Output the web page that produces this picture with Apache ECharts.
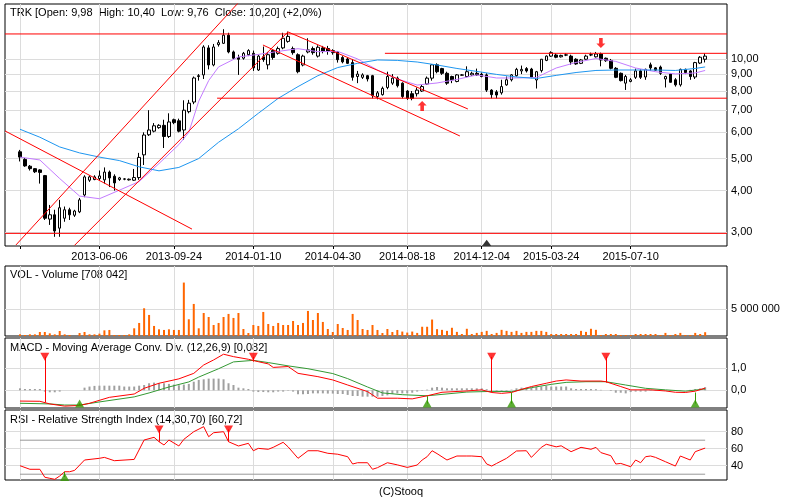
<!DOCTYPE html>
<html>
<head>
<meta charset="utf-8">
<script src="https://cdn.jsdelivr.net/npm/echarts@6/dist/echarts.min.js"></script>
<style>
html, body { margin: 0; padding: 0; background: #fff; }
#main { width: 800px; height: 500px; }
</style>
</head>
<body>
<div id="main"></div>
<script>
// weekly candles: open, high, low, close
var candles = [
  [5.24,5.31,4.90,5.05],[4.97,5.02,4.72,4.75],[4.74,4.78,4.60,4.66],[4.66,4.68,4.52,4.56],[4.62,4.64,4.20,4.54],
  [4.44,4.46,3.26,3.30],[3.28,3.62,3.15,3.38],[3.38,3.50,2.90,3.02],[3.08,3.75,2.90,3.55],[3.30,3.58,3.22,3.50],
  [3.50,3.55,3.26,3.38],[3.37,3.50,3.33,3.47],[3.45,3.80,3.42,3.75],[3.88,4.45,3.82,4.40],[4.30,4.45,4.25,4.40],
  [4.32,4.45,4.30,4.40],[4.35,4.60,4.30,4.43],[4.31,4.70,4.20,4.55],[4.55,4.60,4.10,4.37],[4.42,4.48,4.00,4.22],
  [4.32,4.40,4.28,4.37],[4.33,4.36,4.30,4.34],[4.31,4.35,4.29,4.33],[4.30,4.65,4.28,4.38],[4.38,5.20,4.31,5.04],
  [5.13,6.00,4.78,5.89],[5.90,7.00,5.85,6.10],[6.05,6.40,6.00,6.28],[6.20,6.35,6.15,6.30],[6.30,6.55,5.38,5.83],
  [5.83,6.85,5.77,6.45],[6.55,6.60,6.35,6.42],[6.50,6.60,6.00,6.05],[6.10,7.50,5.70,7.00],[6.93,7.52,6.85,7.35],
  [7.41,8.85,7.30,8.76],[8.85,9.00,8.60,8.90],[8.95,11.00,8.70,10.87],[10.80,11.00,9.30,9.59],[9.59,11.10,9.50,10.87],
  [11.05,11.40,10.90,11.20],[11.15,12.30,11.10,11.80],[11.80,12.00,10.40,10.50],[10.50,10.60,9.95,10.05],[10.10,10.30,8.95,9.98],
  [10.05,10.50,9.95,10.40],[10.30,10.70,10.20,10.60],[10.40,10.60,9.20,9.40],[9.26,10.30,9.20,10.20],[10.15,10.90,9.80,9.95],
  [9.60,10.50,9.30,10.30],[10.60,10.70,9.95,10.10],[10.40,10.90,10.30,10.75],[10.80,12.00,10.70,11.55],[11.30,12.10,11.20,11.70],
  [10.75,10.90,10.30,10.45],[10.30,10.40,9.05,9.15],[9.59,10.30,9.50,10.20],[10.50,11.55,10.40,10.65],[10.75,10.90,10.30,10.45],
  [10.20,11.00,10.10,10.85],[10.80,10.95,10.40,10.55],[10.75,10.95,10.30,10.55],[10.45,10.70,10.30,10.60],[10.50,10.55,9.75,9.95],
  [10.10,10.20,9.70,9.80],[10.00,10.10,9.65,9.70],[9.75,10.00,8.60,8.80],[8.85,9.20,8.45,9.00],[8.80,9.05,8.70,8.95],
  [8.90,8.95,8.55,8.70],[8.90,8.95,7.60,7.75],[7.70,8.00,7.55,7.90],[7.80,8.25,7.75,8.15],[8.20,9.15,8.10,8.85],
  [8.45,9.00,8.35,8.75],[8.75,8.85,8.20,8.30],[8.45,8.50,7.60,7.70],[8.00,8.05,7.52,7.60],[7.85,8.00,7.50,7.60],
  [7.85,8.20,7.70,8.05],[8.00,8.35,7.95,8.25],[8.40,8.85,8.35,8.75],[8.75,9.65,8.60,9.60],[9.60,9.70,9.05,9.15],
  [9.35,9.40,8.95,9.05],[9.05,9.15,8.35,8.45],[8.85,8.90,8.45,8.65],[8.55,9.00,8.50,8.95],[8.93,9.00,8.90,8.95],
  [8.85,9.50,8.80,9.15],[8.95,9.15,8.90,9.05],[9.05,9.35,8.90,8.95],[9.00,9.10,8.80,8.85],[8.95,9.05,7.95,8.05],
  [8.05,8.10,7.60,7.80],[7.95,8.05,7.60,7.78],[7.90,8.65,7.80,8.25],[8.35,8.85,8.30,8.65],[8.65,9.00,8.55,8.95],
  [8.90,9.40,8.85,9.30],[9.20,9.55,9.00,9.30],[9.35,9.45,9.10,9.20],[9.32,9.40,8.75,8.82],[8.64,9.20,8.14,9.15],
  [9.22,10.00,9.10,9.98],[9.90,10.25,9.85,10.20],[10.20,10.55,10.15,10.45],[10.28,10.40,10.05,10.12],[10.15,10.30,10.10,10.25],
  [10.27,10.40,10.20,10.29],[10.20,10.30,9.60,9.80],[9.98,10.05,9.60,9.66],[9.70,10.00,9.65,9.93],[9.98,10.30,9.95,10.20],
  [10.28,10.45,10.20,10.30],[10.15,10.50,10.10,10.35],[10.35,10.45,9.50,9.93],[10.05,10.10,9.80,9.88],[9.90,10.00,9.30,9.37],
  [9.37,9.45,8.75,8.80],[9.05,9.10,8.55,8.60],[8.45,8.95,8.06,8.85],[8.55,8.75,8.50,8.65],[8.80,9.35,8.70,9.20],
  [9.20,9.30,8.70,8.80],[8.82,9.35,8.65,9.30],[9.60,9.75,9.20,9.40],[9.40,9.45,9.20,9.25],[9.45,9.55,8.95,9.05],
  [8.70,8.90,8.20,8.85],[9.00,9.05,8.50,8.50],[8.65,8.75,8.25,8.35],[8.35,9.35,8.25,9.30],[9.30,9.35,9.00,9.10],
  [9.20,9.25,8.65,8.85],[8.82,9.80,8.70,9.75],[9.72,10.20,9.65,10.12],[9.98,10.40,9.76,10.20]
];

// volume in millions
var volume = [
  0.31,0.19,0.31,0.31,0.75,0.75,0.5,0.31,0.94,0.31,0.19,0,
  0.56,0.75,0.31,0.31,0.44,1.06,1.13,0.19,0.19,0.19,0.31,
  1.44,2.44,5.19,3.94,1.88,1.25,1.13,1.25,1.13,1.13,10.0,3.13,6.0,
  1.44,4.31,3.56,2.06,2.44,3.56,4.13,3.38,4.31,1.31,0.56,
  2.06,1.88,4.5,2.25,1.88,2.44,2.06,2.06,2.81,2.06,2.44,
  4.69,3.0,4.31,2.63,1.31,0.75,2.25,1.5,1.13,4.13,3.0,
  1.31,1.13,2.06,1.13,0.56,1.31,0.75,1.13,
  0.83,0.64,0.83,0.58,1.73,1.73,3.08,1.28,1.15,0.96,1.54,0.77,0.38,1.35,0.38,0.58,0.77,0.96,0.38,0.58,
  1.15,0.96,0.77,0.96,0.58,0.77,0.77,0.96,0.96,0.77,0.38,0.38,0.38,0.38,0.38,0.38,0.96,0.77,1.35,1.15,
  0.19,0.38,0.38,0.38,0.19,0.19,0.19,0.38,0.38,0.38,0.38,0.38,0.19,0.58,0.19,0.38,0.58,0.19,0.19,0.58,0.38,0.71
];

// moving averages: [candle, price]
var maShort = [[0,5.05],[4,4.95],[8,4.35],[12,3.85],[16,3.78],[20,4.01],[24,4.26],[28,4.83],[32,5.51],[34,6.0],
  [36,7.45],[38,8.6],[40,9.46],[44,10.14],[48,10.32],[52,10.54],[56,10.74],[60,10.52],[64,10.54],[68,10.0],
  [72,9.26],[76,8.7],[80,8.34],[84,8.46],[88,8.67],[92,8.95],[96,8.76],[100,8.76],[104,8.79],[108,9.39],
  [112,9.76],[116,10.03],[120,9.83],[124,9.39],[128,9.15],[132,9.01],[136,9.07],[138,9.23]];
var maLong = [[0,6.13],[4,5.8],[8,5.42],[12,5.2],[16,5.05],[20,4.93],[24,4.72],[28,4.59],[32,4.7],[36,5.0],
  [40,5.6],[44,6.15],[48,6.85],[52,7.6],[56,8.25],[60,8.9],[64,9.42],[68,9.7],[72,9.93],[76,9.9],[80,9.79],
  [84,9.59],[88,9.36],[92,9.17],[96,8.98],[100,8.82],[104,8.73],[108,8.92],[112,9.1],[116,9.23],[120,9.26],
  [124,9.26],[128,9.26],[132,9.23],[136,9.36],[138,9.46]];

// trend lines and levels: [[candle, price], [candle, price]]
var trendLines = [
  [[-0.81,2.74],[44.3,14.97]],
  [[10.97,2.731],[53.97,12.07]],
  [[-3.02,6.06],[34.64,3.06]],
  [[53.97,12.07],[90.21,7.06]],
  [[48.93,11.02],[88.6,5.85]],
  [[-3.02,11.9],[142.4,11.9]],
  [[73.5,10.40],[142.4,10.40]],
  [[39.7,7.61],[142.4,7.61]],
  [[-3.02,2.97],[142.4,2.97]]
];
var arrowsUp = [[81,7.21]];
var arrowsDown = [[117,11.18]];
var blackMarks = [[94,2.78]];

// MACD (12,26,9): [candle, value]
var macdLine = [[0,-0.49],[4,-0.5],[6,-0.62],[9,-0.72],[12,-0.69],[14,-0.59],[18,-0.32],[23,-0.17],[25,0.09],
  [28,0.32],[32,0.52],[35,0.77],[37,1.15],[39,1.38],[41,1.64],[43,1.53],[46,1.41],[48,1.3],[50,1.2],[51,1.04],
  [54,1.08],[56,0.77],[60,0.62],[63,0.47],[66,0.24],[70,-0.06],[72,-0.36],[76,-0.36],[79,-0.39],[82,-0.25],
  [85,-0.09],[90,-0.03],[93,0.02],[95,-0.1],[97,-0.14],[99,-0.1],[101,0.04],[103,0.17],[106,0.32],[108,0.42],
  [110,0.47],[113,0.42],[117,0.42],[118,0.39],[121,0.17],[123,0.02],[127,0.02],[130,-0.03],[132,-0.09],
  [134,-0.1],[136,-0.04],[138,0.1]];
var signalLine = [[0,-0.59],[6,-0.62],[9,-0.67],[12,-0.67],[16,-0.53],[23,-0.3],[26,-0.12],[30,0.15],[34,0.38],
  [36,0.6],[40,0.98],[43,1.29],[47,1.36],[50,1.26],[54,1.11],[58,0.98],[63,0.76],[66,0.53],[70,0.15],[73,-0.12],
  [77,-0.2],[82,-0.25],[90,-0.08],[95,-0.05],[99,-0.06],[103,0.12],[107,0.27],[110,0.36],[114,0.39],[118,0.39],
  [122,0.24],[126,0.09],[130,0.02],[134,-0.04],[138,0.06]];
var macdHist = [
  0.09,0.06,0.06,0.06,0.06,-0.06,-0.09,-0.09,-0.06,0,0,0,0,
  0.12,0.17,0.2,0.21,0.21,0.21,0.21,0.21,0.17,0.17,0.17,0.21,0.24,0.32,0.35,0.32,0.32,0.29,0.26,0.23,
  0.26,0.29,0.39,0.47,0.5,0.53,0.53,0.53,0.5,0.32,0.24,0.12,0.09,0.06,
  -0.06,-0.08,-0.08,-0.09,-0.09,-0.06,-0.06,-0.02,-0.06,-0.18,-0.18,-0.17,-0.14,-0.14,-0.14,-0.15,-0.15,
  -0.17,-0.17,-0.21,-0.26,-0.26,-0.29,-0.29,-0.29,-0.29,-0.26,-0.23,-0.17,-0.14,
  -0.14,-0.14,-0.11,-0.06,-0.02,0.03,0.12,0.15,0.12,0.09,0.09,0.09,0.09,0.09,0.09,0.09,0.09,0.05,0,-0.03,
  -0.05,-0.03,0.03,0.09,0.12,0.12,0.12,0.15,0.17,0.2,0.17,0.17,0.17,0.17,0.09,0.06,0.06,0.06,0.06,0.05,
  0.02,0,-0.03,-0.11,-0.11,-0.14,-0.08,-0.06,-0.06,-0.06,-0.03,-0.02,0,-0.02,-0.03,-0.03,-0.02,0,0.02,0.06,
  0.09,0.14
];
var macdSell = [[5,-0.55],[47,1.3],[95,-0.1],[118,0.35]];
var macdBuy = [[12,-0.69],[82,-0.27],[99,-0.1],[136,-0.1]];

// RSI (14): [candle, value]
var rsiLine = [[0,40],[2,35.8],[4,35.8],[5,26.4],[6,25.2],[7,24],[8,27.9],[9,32.9],[10,32.9],[11,34.5],
  [13,46.7],[16,48.7],[17,49.8],[19,45.9],[23,47.4],[25,70.2],[27,73.4],[28,68.2],[29,64.4],[30,70.2],
  [32,63.2],[33,71],[35,80],[37,85.9],[38,74.1],[39,78.8],[41,80],[42,68.2],[44,63.2],[46,66.3],[47,57.6],
  [48,60.4],[50,59.3],[51,61.6],[53,67.5],[54,62.2],[56,48.7],[58,57.6],[60,57.6],[62,54.6],[64,53.5],
  [66,50.6],[67,42],[68,43.5],[70,43.5],[71,35.8],[72,37.7],[74,43.5],[76,41],[78,38],[80,40.8],[81,46.7],
  [82,50.6],[83,57.6],[84,54.2],[86,46.7],[88,51.4],[90,51.4],[91,51.4],[93,50.6],[94,42],[95,39.6],[96,42.7],
  [98,48.7],[100,57.3],[102,57.6],[103,49.8],[105,61.6],[106,65.2],[108,62.2],[109,63.4],[111,56.5],
  [113,61.6],[115,59.3],[116,61.6],[117,55.4],[119,51.8],[120,42],[121,42.7],[123,38.8],[124,46.7],
  [125,43.5],[126,50.6],[127,51.4],[128,49.8],[130,44.7],[132,39.6],[133,51.4],[135,46.7],[136,56.5],[138,60.72]];
var rsiSell = [[28,68.2],[42,68.2]];
var rsiBuy = [[9,32.9]];
var rsiLevels = [70, 30];

var dateTicks = [16, 31, 47, 63, 78, 93, 107, 123];
var dateLabels = ['2013-06-06','2013-09-24','2014-01-10','2014-04-30','2014-08-18','2014-12-04','2015-03-24','2015-07-10'];
var priceTicks = [3, 4, 5, 6, 7, 8, 9, 10];

var FONT = '"Liberation Sans", Arial, sans-serif';
var X_MIN = -3.02, X_MAX = 142.4;
var MACD_TOP = 1.52, MACD_BOTTOM = -0.6;
var RSI_TOP = 82.6, RSI_BOTTOM = 26.7;
var gridTicks = [0].concat(dateTicks);
var splitColor = '#dcdcdc';
var RED = '#ff0000';

function comma(v, d) { return v.toFixed(d).replace('.', ','); }

function xAxisFor(g, labels) {
  return {
    type: 'value', gridIndex: g, min: X_MIN, max: X_MAX,
    axisLine: { show: false },
    axisTick: { show: labels, customValues: gridTicks, length: 3, lineStyle: { color: '#000' } },
    axisLabel: labels ? {
      customValues: dateTicks, fontSize: 11, fontFamily: FONT, color: '#000', margin: 5,
      formatter: function (v) { var k = dateTicks.indexOf(Math.round(v)); return k < 0 ? '' : dateLabels[k]; }
    } : { show: false },
    splitLine: { show: true, lineStyle: { color: splitColor, width: 1 } }
  };
}

function yAxisFor(g, type, min, max, ticks, fmt) {
  return {
    type: type, gridIndex: g, min: min, max: max, position: 'right',
    axisLine: { show: false },
    axisTick: { show: false, customValues: ticks },
    axisLabel: { customValues: ticks, fontSize: 11, fontFamily: FONT, color: '#000', margin: 4, formatter: fmt },
    splitLine: { show: true, lineStyle: { color: splitColor, width: 1 } }
  };
}

function grid(top, h) {
  return { left: 5, top: top, width: 722, height: h, show: true, borderColor: '#000', borderWidth: 1, backgroundColor: 'transparent' };
}

var upArrow = 'path://M5,0 L10,5 L7,5 L7,11 L3,11 L3,5 L0,5 Z';
var downArrow = 'path://M3,0 L7,0 L7,6 L10,6 L5,11 L0,6 L3,6 Z';

function signalLines(list, endValue) {
  return list.map(function (p) { return [{ coord: [p[0], endValue] }, { coord: [p[0], p[1]] }]; });
}

var series = [];

// price panel
series.push({
  type: 'candlestick', xAxisIndex: 0, yAxisIndex: 0, barWidth: 3, z: 2,
  data: candles.map(function (c, i) { return [i, c[0], c[3], c[2], c[1]]; }),
  itemStyle: { color: '#fff', color0: '#000', borderColor: '#000', borderColor0: '#000', borderWidth: 1 }
});
series.push({ type: 'line', xAxisIndex: 0, yAxisIndex: 0, data: maShort, symbol: 'none', z: 3, color: '#c47cff',
  lineStyle: { color: '#c47cff', width: 1 } });
series.push({ type: 'line', xAxisIndex: 0, yAxisIndex: 0, data: maLong, symbol: 'none', z: 3, color: '#1e96f0',
  lineStyle: { color: '#1e96f0', width: 1 } });
trendLines.forEach(function (seg) {
  series.push({ type: 'line', xAxisIndex: 0, yAxisIndex: 0, data: seg, symbol: 'none', z: 4, clip: true, color: RED,
    itemStyle: { color: RED }, lineStyle: { color: RED, width: 1 } });
});
series.push({ type: 'scatter', xAxisIndex: 0, yAxisIndex: 0, data: arrowsUp, symbol: upArrow, symbolSize: [9, 10], z: 5,
  itemStyle: { color: RED } });
series.push({ type: 'scatter', xAxisIndex: 0, yAxisIndex: 0, data: arrowsDown, symbol: downArrow, symbolSize: [9, 10], z: 5,
  itemStyle: { color: RED } });
series.push({ type: 'scatter', xAxisIndex: 0, yAxisIndex: 0, data: blackMarks, symbol: 'triangle', symbolSize: [9, 6], z: 5,
  itemStyle: { color: '#000' } });

// volume panel
series.push({ type: 'bar', xAxisIndex: 1, yAxisIndex: 1, barWidth: 2,
  data: volume.map(function (v, i) { return [i, v]; }), itemStyle: { color: '#ff6600' } });

// MACD panel
series.push({ type: 'bar', xAxisIndex: 2, yAxisIndex: 2, barWidth: 2,
  data: macdHist.map(function (v, i) { return [i, v]; }), itemStyle: { color: '#a0a0a0' } });
series.push({ type: 'line', xAxisIndex: 2, yAxisIndex: 2, data: signalLine, symbol: 'none', color: '#339933',
  lineStyle: { color: '#339933', width: 1 } });
series.push({ type: 'line', xAxisIndex: 2, yAxisIndex: 2, data: macdLine, symbol: 'none', color: RED,
  lineStyle: { color: RED, width: 1 },
  markLine: { silent: true, symbol: ['none', 'none'], label: { show: false }, animation: false,
    lineStyle: { color: RED, width: 1, type: 'solid' }, data: signalLines(macdSell, MACD_TOP) } });
series.push({ type: 'scatter', xAxisIndex: 2, yAxisIndex: 2, symbol: 'none', data: [],
  markLine: { silent: true, symbol: ['none', 'none'], label: { show: false }, animation: false,
    lineStyle: { color: '#339900', width: 1, type: 'solid' }, data: signalLines(macdBuy, MACD_BOTTOM) } });
series.push({ type: 'scatter', xAxisIndex: 2, yAxisIndex: 2, symbol: 'triangle', symbolRotate: 180, symbolSize: [9, 8], z: 5,
  data: macdSell.map(function (p) { return [p[0], MACD_TOP]; }), itemStyle: { color: RED } });
series.push({ type: 'scatter', xAxisIndex: 2, yAxisIndex: 2, symbol: 'triangle', symbolSize: [9, 8], z: 5,
  data: macdBuy.map(function (p) { return [p[0], MACD_BOTTOM]; }), itemStyle: { color: '#339900' } });

// RSI panel
rsiLevels.forEach(function (lv) {
  series.push({ type: 'line', xAxisIndex: 3, yAxisIndex: 3, symbol: 'none', data: [[0, lv], [138, lv]], color: '#999',
    lineStyle: { color: '#999', width: 1 } });
});
series.push({ type: 'line', xAxisIndex: 3, yAxisIndex: 3, data: rsiLine, symbol: 'none', z: 3, color: RED,
  lineStyle: { color: RED, width: 1 },
  markLine: { silent: true, symbol: ['none', 'none'], label: { show: false }, animation: false,
    lineStyle: { color: RED, width: 1, type: 'solid' }, data: signalLines(rsiSell, RSI_TOP) } });
series.push({ type: 'scatter', xAxisIndex: 3, yAxisIndex: 3, symbol: 'none', data: [],
  markLine: { silent: true, symbol: ['none', 'none'], label: { show: false }, animation: false,
    lineStyle: { color: '#339900', width: 1, type: 'solid' }, data: signalLines(rsiBuy, RSI_BOTTOM) } });
series.push({ type: 'scatter', xAxisIndex: 3, yAxisIndex: 3, symbol: 'triangle', symbolRotate: 180, symbolSize: [9, 8], z: 5,
  data: rsiSell.map(function (p) { return [p[0], RSI_TOP]; }), itemStyle: { color: RED } });
series.push({ type: 'scatter', xAxisIndex: 3, yAxisIndex: 3, symbol: 'triangle', symbolSize: [9, 8], z: 5,
  data: rsiBuy.map(function (p) { return [p[0], RSI_BOTTOM]; }), itemStyle: { color: '#339900' } });

function label(text, x, y, align) {
  return { type: 'text', x: x, y: y, silent: true,
    style: { text: text, font: '11px ' + FONT, fill: '#000', textAlign: align || 'left', textVerticalAlign: 'middle' } };
}

var myChart = echarts.init(document.getElementById('main'));
myChart.setOption({
  animation: false,
  backgroundColor: '#fff',
  grid: [grid(4, 242), grid(266, 70), grid(338, 70), grid(410, 70)],
  xAxis: [xAxisFor(0, true), xAxisFor(1, false), xAxisFor(2, false), xAxisFor(3, false)],
  yAxis: [
    yAxisFor(0, 'log', 2.72, 14.66, priceTicks, function (v) { return comma(v, 2); }),
    yAxisFor(1, 'value', 0, 13.1, [5], function () { return '5 000 000'; }),
    yAxisFor(2, 'value', -0.805, 2.377, [0, 1], function (v) { return comma(v, 1); }),
    yAxisFor(3, 'value', 23.2, 105.5, [40, 60, 80], function (v) { return String(v); })
  ],
  graphic: [
    label('TRK [Open: 9,98  High: 10,40  Low: 9,76  Close: 10,20] (+2,0%)', 10, 13),
    label('VOL - Volume [708 042]', 10, 275),
    label('MACD - Moving Average Conv. Div. (12,26,9) [0,082]', 10, 348),
    label('RSI - Relative Strength Index (14,30,70) [60,72]', 10, 420),
    label('(C)Stooq', 401, 492, 'center')
  ],
  series: series
});
</script>
</body>
</html>
